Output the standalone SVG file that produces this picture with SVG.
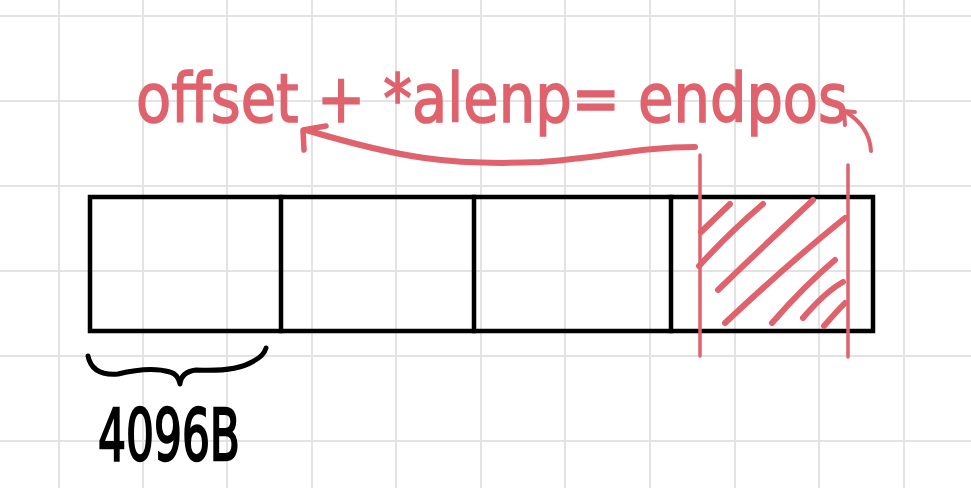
<svg xmlns="http://www.w3.org/2000/svg" width="971" height="488" viewBox="0 0 971 488">
<style>
.grid{stroke:#e3e3e3;stroke-width:2;fill:none}
.box{stroke:#000;stroke-width:4.5;fill:none;stroke-linecap:square}
.red{stroke:#df626d;fill:none;stroke-linecap:round;stroke-linejoin:round}
.rtext{font-family:"DejaVu Sans","Liberation Sans",sans-serif;fill:#df626d;stroke:#df626d;stroke-width:1.4;font-size:58px}
.btext{font-family:"DejaVu Sans","Liberation Sans",sans-serif;fill:#000;stroke:#000;stroke-width:2.5}
</style>
<rect width="971" height="488" fill="#fff"/>
<g id="grid" class="grid">
<path d="M59 0V488M143 0V488M227 0V488M312 0V488M396 0V488M481 0V488M565 0V488M650 0V488M735 0V488M819 0V488M904 0V488"/>
<path d="M0 16H971M0 101H971M0 186H971M0 271H971M0 356H971M0 441H971"/>
</g>
<g id="blocks" class="box">
<rect x="90" y="197" width="783" height="134"/>
<path d="M281 197V331M474 197V331M671 197V331"/>
</g>
<g id="hatch" class="red" stroke-width="6">
<path d="M701 232L730 204"/>
<path d="M699 266Q730 232 763 204"/>
<path d="M718 290Q770 240 813 200"/>
<path d="M725 323Q790 262 845 218"/>
<path d="M772 323Q805 285 835 260"/>
<path d="M803 318Q825 292 843 282"/>
<path d="M824 326Q836 312 845 303"/>
</g>
<g id="markers" class="red" stroke-width="3.5">
<path d="M700 155V356"/>
<path d="M848 165V357"/>
</g>
<g id="connectors" class="red">
<path d="M695 147C640 147 600 158 540 162C450 166 400 158 306 130" stroke-width="6"/>
<path d="M304 150L303 130L326 126" stroke-width="5.5"/>
<path d="M871 151C870 135 862 122 846 112" stroke-width="4"/>
<path d="M845 125L844 111L855 112" stroke-width="4"/>
</g>
<g id="brace">
<path d="M88 356Q92 376 118 374Q150 366 170 372Q178 374 180 384Q181 372 196 370Q235 372 252 362Q264 356 266 348" fill="none" stroke="#000" stroke-width="5" stroke-linecap="round" stroke-linejoin="round"/>
</g>
<g id="formula">
<text class="rtext" transform="translate(136 122) scale(1 1.18)" x="0" y="0" textLength="712" lengthAdjust="spacingAndGlyphs">offset + *alenp= endpos</text>
</g>
<g id="size-label">
<text class="btext" x="98" y="460" font-size="72" textLength="142" lengthAdjust="spacingAndGlyphs">4096B</text>
</g>
</svg>
